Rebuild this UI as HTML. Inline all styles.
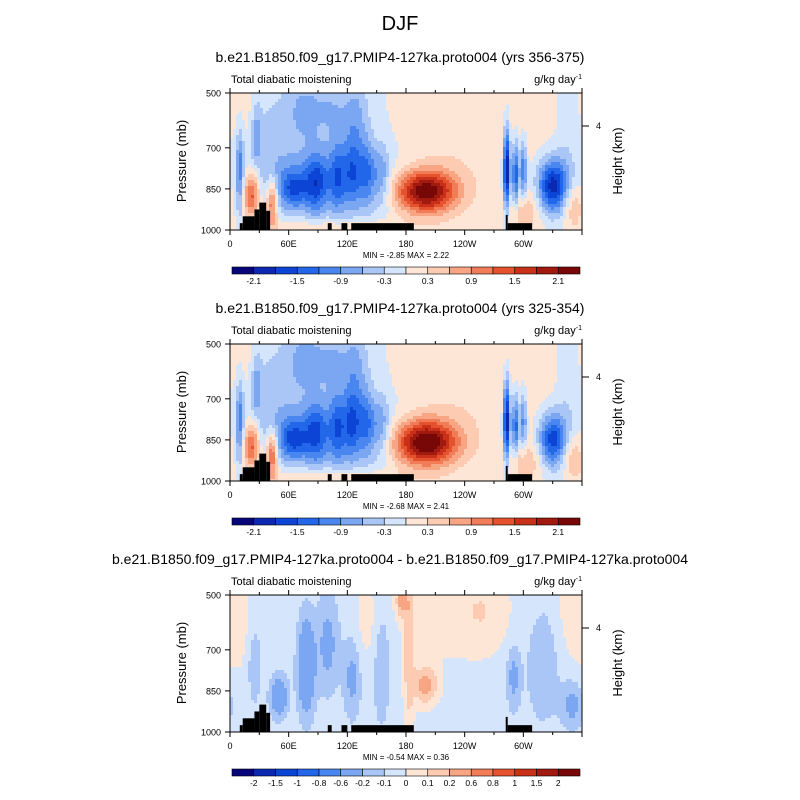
<!DOCTYPE html>
<html><head><meta charset="utf-8">
<style>
html,body{margin:0;padding:0;background:#fff;}
svg{display:block;font-family:"Liberation Sans",Arial,sans-serif;}
</style></head>
<body>
<svg id="fig" width="800" height="800" viewBox="0 0 800 800" xmlns="http://www.w3.org/2000/svg">
<text x="400" y="30" font-size="20" text-anchor="middle">DJF</text>
</svg>
<script>
// ---- data ----
const panelTitles = [
  "b.e21.B1850.f09_g17.PMIP4-127ka.proto004 (yrs 356-375)",
  "b.e21.B1850.f09_g17.PMIP4-127ka.proto004 (yrs 325-354)",
  "b.e21.B1850.f09_g17.PMIP4-127ka.proto004 - b.e21.B1850.f09_g17.PMIP4-127ka.proto004"
];
const minMaxText = ["MIN =  -2.85  MAX =   2.22","MIN =  -2.68  MAX =   2.41","MIN =  -0.54  MAX =   0.36"];
const levelsAbs = [-2.1,-1.8,-1.5,-1.2,-0.9,-0.6,-0.3,0,0.3,0.6,0.9,1.2,1.5,1.8,2.1];
const labelsAbs = ["-2.1","","-1.5","","-0.9","","-0.3","","0.3","","0.9","","1.5","","2.1"];
const levelsDiff = [-2,-1.5,-1,-0.8,-0.6,-0.2,-0.1,0,0.1,0.2,0.6,0.8,1,1.5,2];
const labelsDiff = ["-2","-1.5","-1","-0.8","-0.6","-0.2","-0.1","0","0.1","0.2","0.6","0.8","1","1.5","2"];
const colors = ["#06067a","#0a28b0","#0c44d6","#2266ea","#4a86ef","#7aa6f2","#a9c6f6","#d5e6fc",
                "#fee6d6","#fccbb1","#f8a584","#f07d58","#e5522e","#c9301a","#a01a10","#780808"];
const xTickLabels = ["0","60E","120E","180","120W","60W"];
const xTickLons = [0,60,120,180,240,300];
const yTickLabels = ["500","700","850","1000"];
const yTickP = [500,700,850,1000];
// topography: lon0, lon1, top pressure
const topoLon0 = [10,13,25,30,37,100,114,124,282,284];
const topoLon1 = [13,25,30,37,41,104,120,188,284,309];
const topoTop  = [975,950,925,900,930,975,975,975,945,975];
// field blobs per panel: lon, p, sigma-lon, sigma-p, amplitude
const p1Lon=[200,240,105,65,88,110,125,140,155,100,75,105,130,283,292,300,330,350,22,43,10,27,100,300,12,40,345];
const p1P  =[860,620,700,850,830,800,780,790,800,820,560,560,600,780,800,780,840,910,870,900,780,650,990,930,580,700,700];
const p1Sx =[22,70,60,10,8,6,6,6,6,45,12,15,8,2.5,2.5,2.5,11,8,6,4,3,3,60,14,8,20,8];
const p1Sp =[55,220,300,50,80,100,100,90,80,80,80,80,120,110,90,80,70,60,60,60,120,70,25,50,100,150,200];
const p1A  =[2.35,0.3,-0.25,-1.0,-1.0,-0.8,-0.8,-0.8,-0.6,-0.55,-0.45,-0.4,-0.45,-2.3,-1.6,-1.2,-2.0,0.7,1.5,1.4,-1.0,-0.6,0.45,0.55,0.3,-0.3,-0.25];
const p2Lon=[200,240,105,65,88,110,125,140,155,100,75,105,130,283,292,300,330,350,22,43,10,27,100,300,12,40,345];
const p2P  =[860,620,700,850,830,800,780,790,800,820,560,560,600,780,800,780,850,910,870,900,780,650,990,930,580,700,700];
const p2Sx =[23,70,60,10,8,6,6,6,6,45,12,15,8,2.5,2.5,2.5,10,8,6,4,3,3,60,14,8,20,8];
const p2Sp =[58,220,300,50,80,100,100,90,80,80,80,80,120,110,90,80,70,60,60,60,120,70,25,50,100,150,200];
const p2A  =[2.45,0.3,-0.25,-1.1,-0.9,-0.8,-0.9,-0.8,-0.6,-0.55,-0.5,-0.45,-0.45,-2.2,-1.5,-1.1,-1.7,0.7,1.5,1.5,-1.0,-0.6,0.5,0.55,0.3,-0.3,-0.25];
const p3Lon=[230,350,10,183,200,50,78,100,125,155,290,320,25,140,260,175,350];
const p3P  =[560,560,600,700,830,870,760,680,800,750,800,750,750,600,560,520,900];
const p3Sx =[40,12,12,4,9,6,6,8,6,6,5,12,5,10,15,4,8];
const p3Sp =[130,130,150,250,50,50,120,120,100,150,80,150,100,120,100,40,60];
const p3A  =[0.11,0.1,0.08,0.2,0.3,-0.35,-0.4,-0.2,-0.2,-0.15,-0.2,-0.13,-0.15,0.08,0.07,0.25,-0.2];
const p3Base = -0.05;

const panels = [
  {dy:0,  lon:p1Lon,p:p1P,sx:p1Sx,sp:p1Sp,a:p1A,base:0,levels:levelsAbs,labels:labelsAbs},
  {dy:251,lon:p2Lon,p:p2P,sx:p2Sx,sp:p2Sp,a:p2A,base:0,levels:levelsAbs,labels:labelsAbs},
  {dy:502,lon:p3Lon,p:p3P,sx:p3Sx,sp:p3Sp,a:p3A,base:p3Base,levels:levelsDiff,labels:labelsDiff}
];
// ---- drawing ----
const NS="http://www.w3.org/2000/svg";
const svg=document.getElementById('fig');
const X0=230,X1=582,Y0=93,H=137;
function mk(tag,attrs,parent){const e=document.createElementNS(NS,tag);for(const k in attrs)e.setAttribute(k,attrs[k]);(parent||svg).appendChild(e);return e;}
function xs(lon){return X0+(X1-X0)*lon/360;}
function ys(p,dy){return Y0+dy+H*(p-500)/500;}
function field(P,lon,p){let v=P.base;for(let i=0;i<P.a.length;i++){let dl=Math.abs(lon-P.lon[i]);if(dl>180)dl=360-dl;const u=dl/P.sx[i],w=(p-P.p[i])/P.sp[i];v+=P.a[i]*Math.exp(-0.5*(u*u+w*w));}return v;}
function cls(levels,v){let k=0;while(k<levels.length&&v>=levels[k])k++;return k;}

panels.forEach((P,pi)=>{
  const g=mk('g',{});
  
  
  const t=mk('text',{x:400,y:62+P.dy,'font-size':14,'text-anchor':'middle'},g);
  t.textContent=panelTitles[pi];
  
  
  const l=mk('text',{x:231,y:83+P.dy,'font-size':11},g);l.textContent='Total diabatic moistening';
  
  
  const u=mk('text',{x:582,y:83+P.dy,'font-size':11,'text-anchor':'end'},g);
  u.innerHTML='g/kg day<tspan font-size="7" dy="-4">-1</tspan>';
  
  
  const fg=mk('g',{'shape-rendering':'crispEdges'},g);
  
  
  const cw=3,ch=3;
  for(let yy=0;yy<H;yy+=ch){for(let xx=0;xx<X1-X0;xx+=cw){
    const lon=(xx+cw/2)/(X1-X0)*360,p=500+(yy+ch/2)/H*500;
    const c=colors[cls(P.levels,field(P,lon,p))];
    const r=mk('rect',{x:X0+xx,y:Y0+P.dy+yy,width:Math.min(cw,X1-X0-xx),height:Math.min(ch,H-yy),fill:c},fg);
    
    
  }}
  for(let i=0;i<topoLon0.length;i++){
    const r=mk('rect',{x:xs(topoLon0[i]),y:ys(topoTop[i],P.dy),width:xs(topoLon1[i])-xs(topoLon0[i]),height:ys(1000,P.dy)-ys(topoTop[i],P.dy),fill:'#000'},g);
    
    
  }
  const fr=mk('rect',{x:X0,y:Y0+P.dy,width:X1-X0,height:H,fill:'none',stroke:'#000','stroke-width':1},g);
  
  
  for(let lon=0;lon<=360;lon+=30){
    const major=lon%60===0,len=major?5:3;
    mk('line',{x1:xs(lon),x2:xs(lon),y1:ys(1000,P.dy),y2:ys(1000,P.dy)+len,stroke:'#000'},g);
    mk('line',{x1:xs(lon),x2:xs(lon),y1:ys(500,P.dy),y2:ys(500,P.dy)-len,stroke:'#000'},g);
  }
  xTickLons.forEach((lon,i)=>{const tt=mk('text',{x:xs(lon),y:ys(1000,P.dy)+17,'font-size':9,'text-anchor':'middle'},g);tt.textContent=xTickLabels[i];
    
    });
  yTickP.forEach((p,i)=>{mk('line',{x1:X0-5,x2:X0,y1:ys(p,P.dy),y2:ys(p,P.dy),stroke:'#000'},g);
    const tt=mk('text',{x:X0-9,y:ys(p,P.dy)+3.5,'font-size':9,'text-anchor':'end'},g);tt.textContent=yTickLabels[i];
    
    });
  mk('line',{x1:X1,x2:X1+7,y1:126+P.dy,y2:126+P.dy,stroke:'#000'},g);
  const h4=mk('text',{x:596,y:129+P.dy,'font-size':9},g);h4.textContent='4';
  
  
  const yl=mk('text',{x:0,y:0,'font-size':13,'text-anchor':'middle',transform:`translate(186,${161+P.dy}) rotate(-90)`},g);yl.textContent='Pressure (mb)';
  
  
  const yr=mk('text',{x:0,y:0,'font-size':13,'text-anchor':'middle',transform:`translate(622,${161+P.dy}) rotate(-90)`},g);yr.textContent='Height (km)';
  
  
  const mm=mk('text',{x:406,y:258+P.dy,'font-size':8,'text-anchor':'middle'},g);mm.textContent=minMaxText[pi];
  
  
  const cb=mk('g',{},g);
  
  
  const bx=232,bw=348/16,by=267+P.dy,bh=7;
  colors.forEach((c,i)=>{const r=mk('rect',{x:bx+i*bw,y:by,width:bw,height:bh,fill:c,stroke:'#000','stroke-width':0.6},cb);
    
    });
  P.labels.forEach((s,i)=>{if(!s)return;const tt=mk('text',{x:bx+(i+1)*bw,y:by+17,'font-size':8.5,'text-anchor':'middle'},cb);tt.textContent=s;
    
    });
});
</script>
</body></html>
